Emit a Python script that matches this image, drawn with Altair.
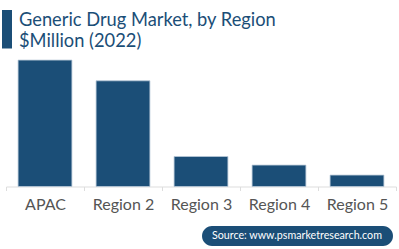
import altair as alt
import pandas as pd

regions = ["APAC", "Region 2", "Region 3", "Region 4", "Region 5"]
values = [126.4, 105.7, 30.0, 21.4, 11.4]
title_lines = ["Generic Drug Market, by Region", "$Million (2022)"]
source_text = "Source: www.psmarketresearch.com"

BLUE = "#1b4e77"
FONT = "Lato"

df = pd.DataFrame({"region": regions, "value": values})

bars = alt.Chart(df).mark_bar(
    color=BLUE, stroke="#b8c8d8", strokeWidth=0.8,
    width=alt.RelativeBandSize(0.69)
).encode(
    x=alt.X("region:N", sort=regions, title=None,
            scale=alt.Scale(paddingInner=0, paddingOuter=0),
            axis=alt.Axis(labelAngle=0, labelFont=FONT, labelFontSize=16,
                          labelColor="#555555", labelPadding=6,
                          domainColor="#dddddd", tickColor="#dddddd",
                          tickSize=4, tickBand="extent")),
    y=alt.Y("value:Q", title=None, axis=None,
            scale=alt.Scale(domain=[0, 126.5], nice=False)),
)

tdf = pd.DataFrame({"t": [0]})

deco = alt.Chart(tdf).mark_rect(color=BLUE).encode(
    x=alt.value(-4), x2=alt.value(6), y=alt.value(-50), y2=alt.value(-11.5)
)

title = alt.Chart(tdf).mark_text(
    text=title_lines, font=FONT, fontSize=18.3, color=BLUE, lineHeight=20.5,
    align="left", baseline="alphabetic"
).encode(x=alt.value(13), y=alt.value(-34))

badge = alt.Chart(tdf).mark_rect(color=BLUE, cornerRadius=10).encode(
    x=alt.value(196), x2=alt.value(387), y=alt.value(166), y2=alt.value(186)
)

src = alt.Chart(tdf).mark_text(
    text=source_text, font=FONT, fontSize=10.7, color="white",
    align="center", baseline="middle"
).encode(x=alt.value(291), y=alt.value(176))

chart = alt.layer(bars, deco, title, badge, src).properties(
    width=390, height=126.5,
    autosize=alt.AutoSizeParams(type="none"),
    padding={"left": 6, "top": 60, "right": 3, "bottom": 62.5},
    background="white",
).configure_view(stroke=None)

chart.save("out.html", embed_options={"renderer": "svg", "actions": False})
